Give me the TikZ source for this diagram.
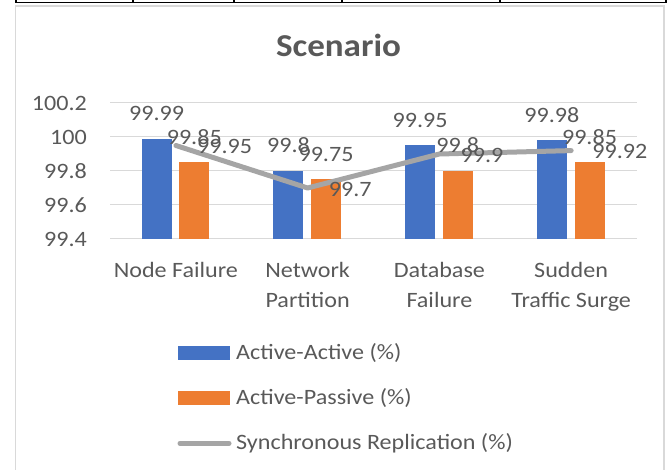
\documentclass[tikz,border=0pt]{standalone}
\usepackage{fontspec}
\setmainfont{Carlito}[FakeStretch=1.1]
\usetikzlibrary{calc}
\definecolor{aablue}{RGB}{68,114,196}
\definecolor{aporange}{RGB}{237,125,49}
\definecolor{srgray}{RGB}{165,165,165}
\definecolor{gridgray}{RGB}{217,217,217}
\definecolor{textgray}{RGB}{89,89,89}

\begin{document}
\begin{tikzpicture}[x=1bp, y=-1bp,
	lbl/.style={inner sep=0pt, text=textgray, font=\fontsize{22}{26}\selectfont},
	declare function={vy(\v)=239-(\v-99.4)*170;}]
	\useasboundingbox (0,0) rectangle (667,470);
	% frame
	\draw [gridgray, line width=1.5bp] (15.5,470) -- (15.5,6) -- (664,6) -- (664,470);
	\draw [black, line width=1.5bp] (16,2.3) -- (666,2.3);
	\foreach \x in {16,133,234,342,500,666}{
		\draw [black, line width=1.2bp] (\x,0) -- (\x,3.4);
	}
	\node [lbl, font=\fontsize{32}{38}\selectfont\bfseries, anchor=base] (title) at (338.5,56.7) {Scenario};
	% grid and axis
	\foreach \v in {99.4,99.6,99.8,100,100.2}{
		\draw [gridgray, line width=1bp] (110,{vy(\v)}) -- (637,{vy(\v)});
		\node [lbl, anchor=east] at (87,{vy(\v)}) {\v};
	}
	% bars
	\foreach \i/\a/\p/\s in {1/99.99/99.85/99.95, 2/99.8/99.75/99.7, 3/99.95/99.8/99.9, 4/99.98/99.85/99.92}{
		\pgfmathsetmacro\cx{110+131.75*(\i-0.5)}
		\fill [aablue] (\cx-34.2,239) rectangle (\cx-4.2,{vy(\a)});
		\fill [aporange] (\cx+3.4,239) rectangle (\cx+33.4,{vy(\p)});
		\coordinate (pt\i) at (\cx,{vy(\s)});
	}
	\draw [srgray, line width=5bp, line cap=round, line join=round] (pt1) -- (pt2) -- (pt3) -- (pt4);
	% data labels
	\foreach \i/\a/\p/\s in {1/99.99/99.85/99.95, 2/99.8/99.75/99.7, 3/99.95/99.8/99.9, 4/99.98/99.85/99.92}{
		\pgfmathsetmacro\cx{110+131.75*(\i-0.5)}
		\node [lbl] (a\i) at (\cx-19.2,{vy(\a)-25.5}) {\a};
		\node [lbl] (p\i) at (\cx+18.4,{vy(\p)-25.5}) {\p};
		\node [lbl, anchor=west] (s\i) at ($(pt\i)+(21,1)$) {\s};
	}
	% categories
	\node [lbl, anchor=base] (c1) at (175.9,277.3) {Node Failure};
	\node [lbl, anchor=base] (c2) at (307.6,277.3) {Network};
	\node [lbl, anchor=base] (c2b) at (307.6,307.5) {Partition};
	\node [lbl, anchor=base] (c3) at (439.4,277.3) {Database};
	\node [lbl, anchor=base] (c3b) at (439.4,307.5) {Failure};
	\node [lbl, anchor=base] (c4) at (571.1,277.3) {Sudden};
	\node [lbl, anchor=base] (c4b) at (571.1,307.5) {Traffic Surge};
	% legend
	\fill [aablue] (178,346) rectangle (230,360);
	\node [lbl, anchor=base west] (legaa) at (236,359.5) {Active-Active (\%)};
	\fill [aporange] (178,391) rectangle (230,405);
	\node [lbl, anchor=base west] (legap) at (236,404.7) {Active-Passive (\%)};
	\draw [srgray, line width=5bp, line cap=round] (180,443.3) -- (229,443.3);
	\node [lbl, anchor=base west] (legsr) at (236,449.3) {Synchronous Replication (\%)};
\end{tikzpicture}
\end{document}
